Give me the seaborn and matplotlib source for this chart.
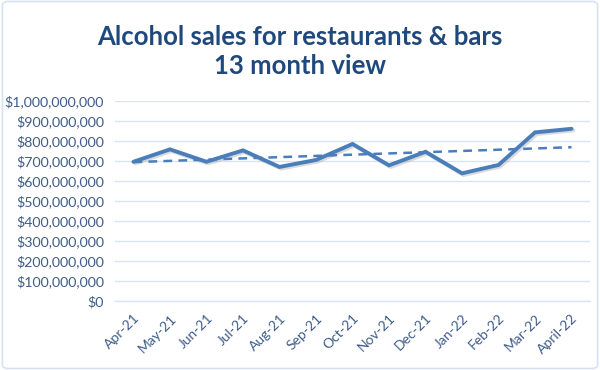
import numpy as np
import pandas as pd
import matplotlib
matplotlib.use("Agg")
import matplotlib.pyplot as plt
import matplotlib.patheffects as pe
from matplotlib.patches import FancyBboxPatch
from matplotlib.ticker import FuncFormatter, FixedLocator
import seaborn as sns

months = ["Apr-21", "May-21", "Jun-21", "Jul-21", "Aug-21", "Sep-21", "Oct-21",
          "Nov-21", "Dec-21", "Jan-22", "Feb-22", "Mar-22", "April-22"]
sales = [696e6, 758e6, 696e6, 753e6, 670e6, 705e6, 785e6,
         678e6, 746e6, 638e6, 680e6, 843e6, 861e6]

LINE = "#4A7EBB"
TEXT = "#3E5C8A"
GRID = "#D9E4F3"

df = pd.DataFrame({"pos": np.arange(len(months)), "sales": sales})

# linear trendline like Excel
slope, icpt = np.polyfit(df["pos"], df["sales"], 1)
df["trend"] = slope * df["pos"] + icpt

sns.set_style("white")
plt.rcParams["font.family"] = ["Lato", "DejaVu Sans"]

fig = plt.figure(figsize=(6, 3.7), dpi=100)
ax = fig.add_axes([0.192, 0.187, 0.791, 0.540])

shadow = [pe.SimpleLineShadow(offset=(1.2, -1.2), shadow_color="#999999", alpha=0.35), pe.Normal()]
sns.lineplot(data=df, x="pos", y="sales", ax=ax, color=LINE, linewidth=2.8,
             solid_capstyle="round", solid_joinstyle="miter", path_effects=shadow)
sns.lineplot(data=df, x="pos", y="trend", ax=ax, color=LINE, linewidth=1.8,
             dashes=False, linestyle=(0, (3.5, 2.5)))

ax.set_xlim(-0.5, len(months) - 0.5)
ax.set_ylim(0, 1e9)
ax.set_yticks(np.arange(0, 1.01e9, 1e8))
ax.yaxis.set_major_formatter(FuncFormatter(lambda v, p: f"${v:,.0f}"))
ax.grid(axis="y", color=GRID, linewidth=1.0)
ax.set_axisbelow(True)

ax.set_xticks(np.arange(len(months)))
ax.set_xticklabels(months, rotation=45, ha="right", rotation_mode="anchor")
ax.xaxis.set_minor_locator(FixedLocator(np.arange(-0.5, len(months), 1.0)))
ax.tick_params(axis="x", which="major", length=0, pad=8, labelsize=10, labelcolor=TEXT)
ax.tick_params(axis="x", which="minor", length=4, color=GRID, width=1, direction="out")
ax.tick_params(axis="y", length=0, pad=8, labelsize=10.2, labelcolor=TEXT)

for s in ["top", "right", "left"]:
    ax.spines[s].set_visible(False)
ax.spines["bottom"].set_color(GRID)
ax.spines["bottom"].set_linewidth(1.0)
ax.set_xlabel("")
ax.set_ylabel("")

fig.text(0.5, 0.86, "Alcohol sales for restaurants & bars\n13 month view",
         ha="center", va="center", fontsize=18.5, fontweight="bold",
         color="#1F497D", linespacing=1.25)

border = FancyBboxPatch((0.004, 0.004), 0.992, 0.992, boxstyle="round,pad=0,rounding_size=0.01",
                        transform=fig.transFigure, fill=False, edgecolor="#D6E2F2", linewidth=1.2)
fig.patches.append(border)

fig.savefig("out.png", dpi=100)
